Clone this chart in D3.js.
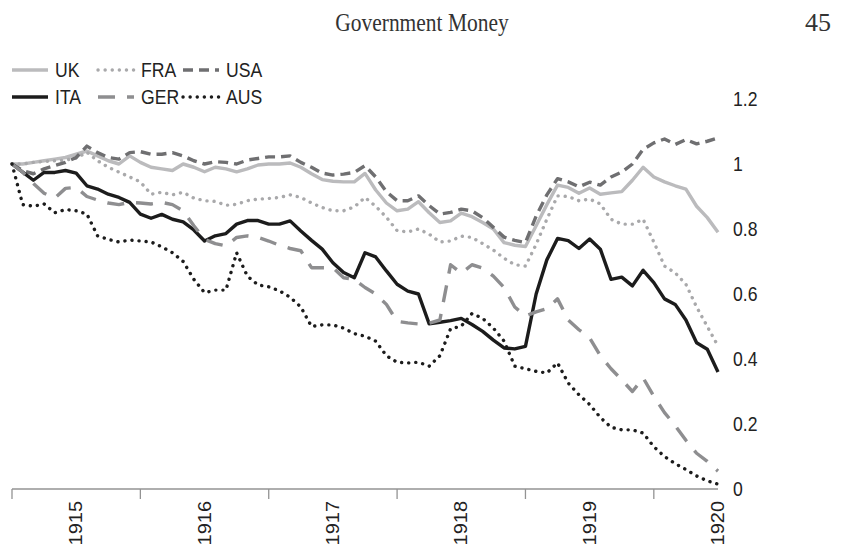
<!DOCTYPE html>
<html>
<head>
<meta charset="utf-8">
<script src="https://cdn.jsdelivr.net/npm/d3@7"></script>
<style>
  body { margin: 0; background: #fff; }
  svg { display: block; }
  .title { font-family: "Liberation Serif", serif; fill: #333; }
  .lab { font-family: "Liberation Sans", Arial, sans-serif; fill: #222; }
</style>
</head>
<body>
<svg id="chart" width="846" height="552"></svg>
<script>
// monthly index, July 1914 (0) to January 1920 (66)
const yearLabels = ["1915", "1916", "1917", "1918", "1919", "1920"];
const yTicks = [0, 0.2, 0.4, 0.6, 0.8, 1, 1.2];

const uk = [1.0, 1.0, 1.005, 1.01, 1.015, 1.02, 1.03, 1.04, 1.025, 1.01,
  1.0, 1.025, 1.005, 0.99, 0.985, 0.98, 1.0, 0.99, 0.976, 0.99,
  0.985, 0.976, 0.985, 0.997, 1.0, 1.0, 1.003, 0.99, 0.97, 0.952,
  0.947, 0.945, 0.945, 0.971, 0.92, 0.88, 0.856, 0.861, 0.884, 0.85,
  0.82, 0.825, 0.849, 0.838, 0.82, 0.8, 0.758, 0.75, 0.746, 0.81,
  0.875, 0.935, 0.928, 0.91, 0.926, 0.907, 0.911, 0.915, 0.95, 0.99,
  0.96, 0.945, 0.933, 0.923, 0.87, 0.835, 0.79];

const fra = [1.0, 1.0, 1.005, 1.008, 1.01, 1.012, 1.018, 1.036, 1.01, 0.99,
  0.975, 0.96, 0.945, 0.907, 0.913, 0.905, 0.913, 0.895, 0.887, 0.885,
  0.873, 0.876, 0.887, 0.892, 0.894, 0.897, 0.905, 0.897, 0.88, 0.866,
  0.856, 0.856, 0.868, 0.897, 0.87, 0.836, 0.795, 0.791, 0.8, 0.784,
  0.76, 0.763, 0.778, 0.774, 0.755, 0.735, 0.71, 0.69, 0.686, 0.753,
  0.83, 0.902, 0.9, 0.887, 0.892, 0.877, 0.83, 0.815, 0.815, 0.83,
  0.76, 0.686, 0.665, 0.63, 0.56, 0.5, 0.44];

const usa = [1.0, 0.98, 0.97, 0.985, 0.995, 1.005, 1.02, 1.055, 1.035, 1.02,
  1.015, 1.035, 1.038, 1.03, 1.03, 1.035, 1.025, 1.01, 1.0, 1.007,
  1.005, 1.0, 1.012, 1.017, 1.022, 1.022, 1.025, 1.005, 0.99, 0.972,
  0.966, 0.969, 0.974, 0.995, 0.96, 0.915, 0.887, 0.887, 0.902, 0.872,
  0.846, 0.851, 0.861, 0.856, 0.835, 0.805, 0.775, 0.765, 0.758, 0.84,
  0.905, 0.955, 0.945, 0.93, 0.944, 0.935, 0.96, 0.975, 1.0, 1.045,
  1.065, 1.077, 1.06, 1.075, 1.062, 1.07, 1.08];

const ita = [1.0, 0.975, 0.95, 0.974, 0.974, 0.98, 0.972, 0.933, 0.923, 0.907,
  0.897, 0.882, 0.846, 0.833, 0.845, 0.83, 0.822, 0.797, 0.763, 0.779,
  0.786, 0.815, 0.826, 0.826, 0.815, 0.815, 0.825, 0.794, 0.765, 0.738,
  0.696, 0.666, 0.65, 0.727, 0.714, 0.671, 0.63, 0.609, 0.6, 0.508,
  0.513, 0.518, 0.525, 0.506, 0.485, 0.458, 0.434, 0.431, 0.439, 0.6,
  0.705, 0.771, 0.764, 0.74, 0.769, 0.738, 0.645, 0.652, 0.625, 0.673,
  0.635, 0.585, 0.568, 0.52, 0.45, 0.43, 0.36];

const ger = [1.0, 0.975, 0.94, 0.91, 0.895, 0.925, 0.928, 0.9, 0.889, 0.88,
  0.875, 0.882, 0.88, 0.877, 0.882, 0.875, 0.856, 0.81, 0.768, 0.755,
  0.748, 0.774, 0.779, 0.774, 0.763, 0.75, 0.74, 0.733, 0.681, 0.681,
  0.681, 0.65, 0.645, 0.62, 0.6, 0.568, 0.516, 0.511, 0.508, 0.51,
  0.52, 0.69, 0.664, 0.69, 0.68, 0.655, 0.62, 0.56, 0.532, 0.545,
  0.555, 0.585, 0.52, 0.49, 0.465, 0.41, 0.37, 0.336, 0.3, 0.342,
  0.285, 0.235, 0.195, 0.15, 0.11, 0.085, 0.055];

const aus = [1.0, 0.875, 0.87, 0.877, 0.85, 0.86, 0.856, 0.846, 0.779, 0.768,
  0.76, 0.766, 0.763, 0.76, 0.745, 0.727, 0.7, 0.645, 0.604, 0.612,
  0.612, 0.727, 0.655, 0.628, 0.622, 0.61, 0.59, 0.56, 0.5, 0.505,
  0.505, 0.495, 0.478, 0.47, 0.455, 0.41, 0.39, 0.388, 0.39, 0.378,
  0.41, 0.493, 0.501, 0.54, 0.525, 0.495, 0.455, 0.378, 0.37, 0.362,
  0.357, 0.388, 0.326, 0.29, 0.26, 0.22, 0.19, 0.182, 0.182, 0.172,
  0.13, 0.1, 0.078, 0.06, 0.04, 0.025, 0.015];

const series = [
  { name: "UK",  values: uk,  color: "#bbbbbd", dash: null,      cap: "butt" },
  { name: "FRA", values: fra, color: "#a9a9ab", dash: "0.1 7",   cap: "round" },
  { name: "USA", values: usa, color: "#6f6f71", dash: "10 6",    cap: "butt" },
  { name: "ITA", values: ita, color: "#1c1c1c", dash: null,      cap: "butt" },
  { name: "GER", values: ger, color: "#8e8e90", dash: "17 12",   cap: "butt" },
  { name: "AUS", values: aus, color: "#1c1c1c", dash: "0.1 7",   cap: "round" }
];

const svg = d3.select("#chart");

const x = d3.scaleLinear().domain([0, uk.length - 1]).range([12, 718]);
const y = d3.scaleLinear().domain([0, 1.2]).range([489, 99]);

// narrow text, like the source scan
const squeeze = 0.88;

// page header
svg.append("text").attr("class", "title")
  .attr("transform", "translate(422,31) scale(0.86,1)")
  .attr("text-anchor", "middle")
  .attr("font-size", 25).text("Government Money");
svg.append("text").attr("class", "title")
  .attr("x", 831).attr("y", 31).attr("text-anchor", "end")
  .attr("font-size", 26).text("45");

// right axis labels (no axis line)
svg.selectAll(".ylab").data(yTicks).join("text")
  .attr("class", "lab")
  .attr("transform", d => `translate(733,${y(d)}) scale(${squeeze},1)`)
  .attr("dy", "0.35em")
  .attr("font-size", 20)
  .text(d => d3.format("~g")(d));

// bottom axis
const xAxis = svg.append("g");
xAxis.append("line")
  .attr("x1", x(0)).attr("x2", x(66))
  .attr("y1", y(0)).attr("y2", y(0))
  .attr("stroke", "#939393").attr("stroke-width", 1.3);
xAxis.selectAll(".tick").data(d3.range(0, 61, 12)).join("line")
  .attr("x1", d => x(d)).attr("x2", d => x(d))
  .attr("y1", y(0)).attr("y2", y(0) + 10)
  .attr("stroke", "#939393").attr("stroke-width", 1.3);
xAxis.selectAll(".year").data(yearLabels).join("text")
  .attr("class", "lab")
  .attr("font-size", 20)
  .attr("text-anchor", "end")
  .attr("transform", (d, i) => `translate(${x(6 + i * 12)},${y(0) + 12}) rotate(-90) scale(1,${squeeze})`)
  .attr("dy", "0.35em")
  .text(d => d);

// lines
const line = d3.line().x((d, i) => x(i)).y(d => y(d));
svg.selectAll(".series").data(series).join("path")
  .attr("fill", "none")
  .attr("stroke", d => d.color)
  .attr("stroke-width", 3.4)
  .attr("stroke-dasharray", d => d.dash)
  .attr("stroke-linecap", d => d.cap)
  .attr("stroke-linejoin", "round")
  .attr("d", d => line(d.values));

// legend, two rows of three
const legend = svg.append("g");
const colX = [12, 98, 183];
const rowY = [70, 97];
series.forEach((s, i) => {
  const lx = colX[i % 3], ly = rowY[Math.floor(i / 3)];
  legend.append("line")
    .attr("x1", lx).attr("x2", lx + 36)
    .attr("y1", ly).attr("y2", ly)
    .attr("stroke", s.color).attr("stroke-width", 3.4)
    .attr("stroke-dasharray", s.dash)
    .attr("stroke-linecap", s.cap);
  legend.append("text").attr("class", "lab")
    .attr("transform", `translate(${lx + 43},${ly}) scale(${squeeze},1)`)
    .attr("dy", "0.35em")
    .attr("font-size", 20)
    .text(s.name);
});
</script>
</body>
</html>
